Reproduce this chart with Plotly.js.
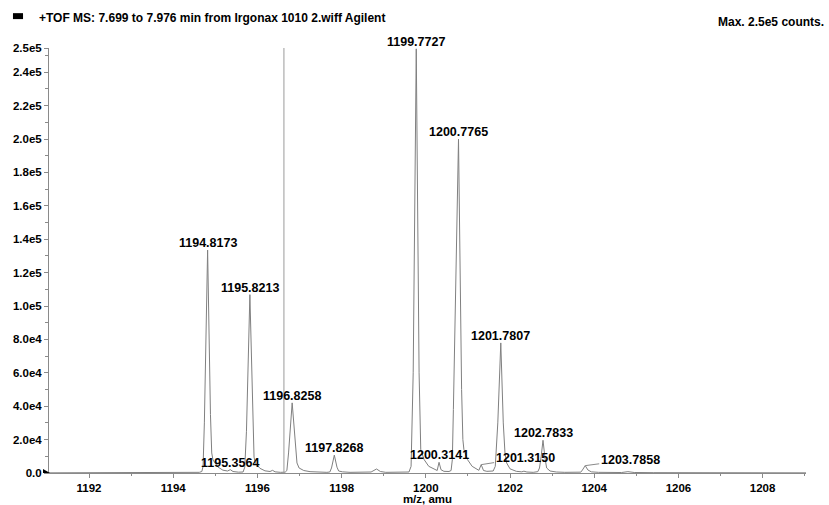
<!DOCTYPE html>
<html>
<head>
<meta charset="utf-8">
<script src="https://cdn.plot.ly/plotly-3.0.1.min.js"></script>
<style>
  html, body { margin: 0; padding: 0; background: #fff; }
  #chart { width: 829px; height: 505px; }
</style>
</head>
<body>
<div id="chart"></div>
<script>
// Profile spectrum: m/z (amu) and intensity (counts)
const mz = [
  1191.05, 1192.60, 1192.72, 1192.81, 1192.92, 1193.10, 1193.62, 1193.72, 1193.80, 1193.90,
  1194.10, 1194.35, 1194.50, 1194.62, 1194.68, 1194.71, 1194.74, 1194.8173, 1194.885, 1194.915,
  1194.945, 1195.06, 1195.18, 1195.29, 1195.3564, 1195.42, 1195.55, 1195.66, 1195.70, 1195.74,
  1195.8213, 1195.89, 1195.92, 1195.95, 1196.06, 1196.18, 1196.30, 1196.36, 1196.42, 1196.55,
  1196.66, 1196.70, 1196.74, 1196.8258, 1196.90, 1196.94, 1196.99, 1197.10, 1197.25, 1197.45,
  1197.65, 1197.72, 1197.76, 1197.8268, 1197.89, 1197.93, 1198.02, 1198.20, 1198.50, 1198.70,
  1198.83, 1198.92, 1199.05, 1199.30, 1199.55, 1199.60, 1199.65, 1199.70, 1199.7727, 1199.84,
  1199.88, 1199.96, 1200.07, 1200.23, 1200.27, 1200.3141, 1200.36, 1200.43, 1200.55, 1200.60,
  1200.63, 1200.655, 1200.7765, 1200.85, 1200.88, 1200.905, 1200.99, 1201.10, 1201.26, 1201.3150,
  1201.37, 1201.45, 1201.60, 1201.65, 1201.71, 1201.7807, 1201.84, 1201.88, 1201.92, 1202.00,
  1202.15, 1202.28, 1202.33, 1202.40, 1202.55, 1202.66, 1202.70, 1202.74, 1202.7833, 1202.83,
  1202.87, 1202.95, 1203.10, 1203.30, 1203.55, 1203.68, 1203.72, 1203.7858, 1203.85, 1203.93,
  1204.10, 1204.40, 1204.65, 1204.80, 1204.95, 1205.40, 1206.00, 1207.00, 1208.50, 1209.03
];
const counts = [
  100, 100, 200, 500, 200, 100, 100, 200, 400, 200,
  100, 200, 350, 400, 900, 4000, 30000, 133500, 35000, 12000,
  7800, 3600, 1700, 1200, 2000, 900, 500, 600, 3500, 25000,
  106800, 28000, 9500, 6000, 2800, 1300, 900, 1600, 700, 400,
  500, 1500, 12000, 42000, 15000, 6000, 3000, 1500, 800, 500,
  400, 600, 3000, 10700, 3500, 1200, 700, 400, 300, 600,
  2400, 900, 400, 300, 300, 600, 4000, 60000, 254000, 60000,
  14000, 8000, 4000, 1600, 1500, 6400, 2000, 1000, 900, 1500,
  8000, 38000, 199900, 50000, 20000, 14000, 8000, 4000, 1600, 5000,
  1500, 1000, 1200, 4000, 30000, 77900, 30000, 12000, 6000, 2500,
  1000, 700, 1100, 600, 400, 800, 3000, 10000, 19600, 9000,
  3000, 1200, 600, 400, 300, 500, 1800, 4400, 1800, 700,
  400, 300, 300, 800, 300, 200, 150, 150, 100, 100
];

// Labelled centroids (m/z); those in leaderLabels get a leader line to the label
const peakLabels = [1194.8173, 1195.3564, 1195.8213, 1196.8258, 1197.8268, 1199.7727,
                    1200.3141, 1200.7765, 1201.7807, 1202.7833];
const leaderLabels = [1201.3150, 1203.7858];

// Cursor position
const cursorMz = 1196.63;

// Axis ticks
const xTicks = [1192, 1194, 1196, 1198, 1200, 1202, 1204, 1206, 1208];
const yTicks = [0, 20000, 40000, 60000, 80000, 100000, 120000, 140000, 160000, 180000, 200000, 220000, 240000, 254500];
const yTickText = ['0.0', '2.0e4', '4.0e4', '6.0e4', '8.0e4', '1.0e5', '1.2e5', '1.4e5', '1.6e5', '1.8e5', '2.0e5', '2.2e5', '2.4e5', '2.5e5'];

const headerText = '+TOF MS: 7.699 to 7.976 min from Irgonax 1010 2.wiff Agilent';
const maxText = 'Max. 2.5e5 counts.';
const xTitle = 'm/z, amu';

const FONT = 'Liberation Sans, Arial, sans-serif';
const GREY = '#8a8a8a';

function countAt(m) {
  const i = mz.indexOf(m);
  return counts[i];
}

const labelFont = { family: FONT, size: 12.5, color: '#000', weight: 'bold' };
const annotations = [];
peakLabels.forEach(m => {
  annotations.push({
    x: m, y: countAt(m), xref: 'x', yref: 'y',
    text: m.toFixed(4), showarrow: false,
    xanchor: 'center', yanchor: 'bottom', yshift: -2,
    font: labelFont
  });
});
const leaderOffsets = { '1201.315': [44, -7], '1203.7858': [45, -6] };
leaderLabels.forEach(m => {
  const off = leaderOffsets[String(m)];
  annotations.push({
    x: m, y: countAt(m), xref: 'x', yref: 'y',
    text: m.toFixed(4), showarrow: true, arrowhead: 0, arrowwidth: 1,
    arrowcolor: GREY, ax: off[0], ay: off[1], standoff: 0,
    xanchor: 'center', yanchor: 'middle',
    font: labelFont
  });
});
annotations.push({
  xref: 'paper', yref: 'paper', x: -0.0155, y: 1.07, xanchor: 'left', yanchor: 'middle',
  text: headerText, showarrow: false,
  font: { family: FONT, size: 12, color: '#000', weight: 'bold' }
});
annotations.push({
  xref: 'paper', yref: 'paper', x: 1.026, y: 1.062, xanchor: 'right', yanchor: 'middle',
  text: maxText, showarrow: false,
  font: { family: FONT, size: 12, color: '#000', weight: 'bold' }
});

const shapes = [
  // cursor line
  { type: 'line', xref: 'x', yref: 'paper', x0: cursorMz, x1: cursorMz, y0: 0, y1: 1,
    line: { color: '#9a9a9a', width: 1 } },
  // header legend swatch
  { type: 'rect', xref: 'paper', yref: 'paper', x0: -0.0476, x1: -0.0343, y0: 1.068, y1: 1.082,
    fillcolor: '#000', line: { width: 0 } },
  // zero-level marker on the intensity axis
  { type: 'path', xref: 'paper', yref: 'y', xsizemode: 'pixel', ysizemode: 'pixel',
    xanchor: 0, yanchor: 0, path: 'M -6 -4 L 1 0 L -6 4 Z',
    fillcolor: '#000', line: { width: 0 } }
];

const data = [{
  x: mz, y: counts, type: 'scatter', mode: 'lines',
  line: { color: '#808080', width: 1 }, hoverinfo: 'skip', showlegend: false
}];

const tickFont = { family: FONT, size: 11.5, color: '#000', weight: 'bold' };
const layout = {
  width: 829, height: 505,
  margin: { l: 49, r: 23, t: 48, b: 32 },
  paper_bgcolor: '#fff', plot_bgcolor: '#fff',
  showlegend: false,
  font: { family: FONT, size: 11, color: '#000' },
  xaxis: {
    range: [1191.05, 1209.03], showgrid: false, zeroline: false,
    showline: true, linecolor: GREY, linewidth: 1,
    ticks: 'outside', ticklen: 4, tickcolor: GREY, tickwidth: 1,
    tickmode: 'array', tickvals: xTicks, ticktext: xTicks.map(String),
    minor: { dtick: 1, tick0: 1191, ticks: 'outside', ticklen: 2, tickcolor: GREY },
    tickfont: tickFont,
    automargin: false,
    title: { text: xTitle, standoff: 4, font: { family: FONT, size: 11.5, color: '#000', weight: 'bold' } }
  },
  yaxis: {
    range: [0, 254500], showgrid: false, zeroline: false,
    showline: true, linecolor: GREY, linewidth: 1,
    ticks: 'outside', ticklen: 4, tickcolor: GREY, tickwidth: 1,
    tickmode: 'array', tickvals: yTicks, ticktext: yTickText,
    minor: { dtick: 10000, tick0: 0, ticks: 'outside', ticklen: 3, tickcolor: GREY },
    tickfont: tickFont,
    automargin: false
  },
  annotations: annotations,
  shapes: shapes
};

Plotly.newPlot('chart', data, layout, { displayModeBar: false, staticPlot: true });
</script>
</body>
</html>
